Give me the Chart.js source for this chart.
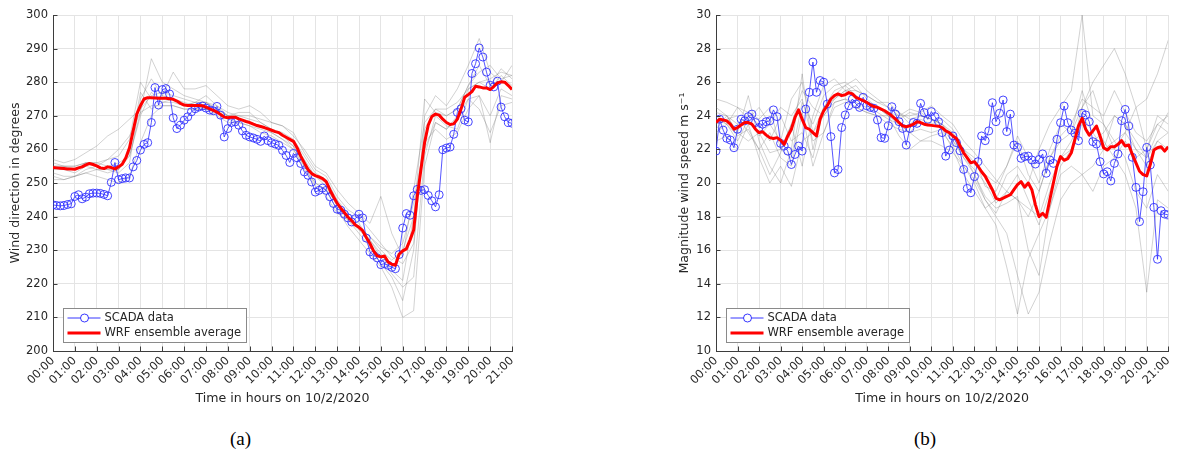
<!DOCTYPE html>
<html>
<head>
<meta charset="utf-8">
<script src="https://cdn.jsdelivr.net/npm/chart.js@4.4.1/dist/chart.umd.min.js"></script>
<style>
  html, body { margin:0; padding:0; background:#fff; width:1181px; height:458px; overflow:hidden; }
  canvas { position:absolute; top:0; }
  #ca { left:0; }
  #cb { left:660px; }
  .cap { position:absolute; top:428px; font-family:'Liberation Serif', serif; font-size:19px; color:#000; }
</style>
</head>
<body>
<canvas id="ca" width="530" height="420"></canvas>
<canvas id="cb" width="521" height="420"></canvas>
<div class="cap" style="left:230px;">(a)</div>
<div class="cap" style="left:914px;">(b)</div>
<script>
// ---------- tick labels ----------
const timeLabels = ['00:00','01:00','02:00','03:00','04:00','05:00','06:00','07:00','08:00','09:00','10:00',
  '11:00','12:00','13:00','14:00','15:00','16:00','17:00','18:00','19:00','20:00','21:00'];
const seriesNames = ['SCADA data', 'WRF ensemble average'];

// ---------- (a) wind direction, 10-min samples ----------
const scadaDir = [243.5,243.3,243.2,243.3,243.6,243.8,
246.0,246.5,245.3,245.8,246.8,247.0,
247.0,246.9,246.6,246.2,250.2,256.1,
251.0,251.3,251.5,251.5,254.8,256.7,
259.8,261.5,262.0,268.0,278.4,273.2,
277.8,278.1,276.5,269.4,266.2,267.2,
268.7,269.7,271.2,272.1,272.6,272.9,
272.3,271.7,271.5,272.8,270.2,263.7,
266.2,268.0,268.2,267.2,265.5,264.2,
263.7,263.4,263.0,262.4,264.0,262.6,
262.0,261.6,261.2,259.7,258.2,256.1,
258.8,257.5,255.8,253.3,252.3,250.3,
247.3,247.8,248.5,247.8,245.9,243.9,
242.2,241.9,240.7,239.6,238.4,239.4,
240.7,239.6,233.6,229.5,228.5,227.7,
225.7,226.0,225.5,224.9,224.5,228.7,
236.6,240.9,240.4,246.2,248.1,247.8,
248.0,246.3,244.7,242.9,246.5,259.9,
260.4,260.7,264.5,271.0,272.1,268.7,
268.2,282.6,285.5,290.2,287.5,283.0,
279.1,278.6,280.3,272.6,269.7,268.0,
267.8];

const wrfDir = [254.6,254.5,254.4,254.3,254.2,254.2,
254.1,254.5,254.8,255.4,255.8,255.5,
255.1,254.5,254.3,254.8,254.6,254.2,
254.8,255.6,257.5,260.5,265.5,270.5,
273.0,275.0,275.4,275.4,275.3,275.2,
275.2,275.2,275.1,274.9,274.4,273.7,
273.2,273.1,273.1,273.1,273.1,273.0,
272.6,272.1,271.6,271.1,270.4,269.6,
269.4,269.6,269.6,269.1,268.7,268.3,
268.0,267.5,267.1,266.8,266.5,266.1,
265.7,265.3,265.0,264.2,263.6,263.0,
262.4,260.5,258.0,256.0,254.0,252.8,
252.2,251.8,251.3,250.4,248.0,245.9,
244.0,242.5,241.2,239.8,238.8,237.5,
236.8,235.8,233.8,232.0,229.8,228.3,
228.0,228.3,226.5,225.8,225.5,228.8,
229.8,230.4,233.0,236.0,246.0,254.0,
262.0,267.2,269.8,270.5,270.2,269.0,
268.0,267.4,267.6,269.0,272.0,275.5,
276.3,277.2,278.8,278.6,278.3,278.3,
277.8,278.7,279.8,280.1,280.0,279.0,
277.8];

// ensemble members (a), 30-min samples
const memDir1 = [257,256,257,259,261,264,266,269,272,276,277,276,275,274,274,273,271,270,270,269,268,267,265,259,254,252,246,242,240,236,232,228,226,232,266,272,272,274,278,280,281,283,282];
const memDir2 = [253,252,252,254,255,257,260,264,271,287,280,278,276,275,274,272,270,270,269,268,266,265,263,258,253,251,245,241,238,233,229,224,221,240,275,271,270,272,279,285,279,284,281];
const memDir3 = [255,255,254,256,255,254,253,256,275,281,276,275,273,274,274,272,270,269,268,267,266,264,262,257,252,249,243,239,235,231,226,222,215,230,270,276,273,278,285,293,283,280,285];
const memDir4 = [252,251,252,253,252,251,250,252,262,270,273,273,272,272,272,270,268,268,267,266,265,263,260,255,250,248,242,237,233,229,225,219,210,212,255,268,266,270,275,276,270,278,276];
const memDir5 = [256,255,255,256,256,255,256,258,270,277,274,274,273,274,276,273,270,271,271,268,266,264,261,255,249,246,241,239,236,233,228,223,219,222,258,270,267,266,275,272,265,273,274];
const memDir6 = [254,254,253,255,254,253,254,259,277,272,274,275,274,273,272,271,269,268,267,265,264,262,260,254,250,248,244,240,237,234,230,227,230,240,260,268,266,269,278,280,278,282,279];
const memDir7 = [255,255,255,256,256,257,258,263,280,275,276,283,278,278,279,276,273,272,273,271,268,267,264,260,255,253,248,244,241,238,246,235,228,248,268,272,270,272,279,283,285,281,282];
const memDir8 = [251,251,252,253,254,254,254,258,271,273,273,273,272,272,272,271,270,269,268,267,265,263,261,256,252,250,244,240,237,234,231,229,232,244,262,266,263,265,272,276,262,276,275];

// ---------- (b) wind speed, 10-min samples ----------
const scadaSpd = [21.9,23.8,23.15,22.66,22.56,22.1,
23.2,23.8,23.7,23.95,24.1,23.6,
23.3,23.5,23.65,23.7,24.35,23.95,
22.36,22.2,21.9,21.1,21.7,22.2,
21.9,24.4,25.4,27.2,25.4,26.1,
26.0,24.7,22.76,20.6,20.8,23.3,
24.05,24.6,25.0,24.7,24.5,25.1,
24.6,24.5,24.45,23.75,22.7,22.66,
23.4,24.54,24.1,23.65,23.25,22.26,
23.25,23.6,23.55,24.74,24.19,23.79,
24.25,23.95,23.65,23.0,21.6,21.96,
22.8,22.4,21.92,20.81,19.68,19.42,
20.38,21.27,22.8,22.52,23.1,24.78,
23.65,24.15,24.94,23.06,24.1,22.26,
22.12,21.47,21.57,21.6,21.37,21.13,
21.4,21.73,20.58,21.37,21.17,22.6,
23.59,24.58,23.59,23.15,22.96,22.52,
24.15,24.05,23.65,22.46,22.32,21.27,
20.54,20.67,20.12,21.17,21.73,23.71,
24.38,23.39,21.53,19.74,17.7,19.48,
22.12,21.07,18.55,15.46,18.35,18.15,
18.1];

const wrfSpd = [23.6,23.8,23.75,23.7,23.5,23.2,
23.3,23.45,23.6,23.6,23.5,23.2,
23.0,23.05,22.85,22.7,22.65,22.7,
22.55,22.3,22.8,23.2,23.9,24.35,
23.8,23.3,23.2,23.0,22.8,23.8,
24.3,24.6,25.0,25.2,25.3,25.2,
25.25,25.38,25.3,25.1,25.0,24.9,
24.8,24.65,24.55,24.5,24.4,24.3,
24.15,24.0,23.8,23.6,23.4,23.35,
23.4,23.5,23.65,23.6,23.5,23.45,
23.43,23.4,23.38,23.3,23.1,23.0,
22.8,22.65,22.2,21.8,21.5,21.2,
21.27,21.0,20.67,20.4,20.0,19.6,
19.1,19.0,19.1,19.2,19.3,19.6,
19.9,20.08,19.75,20.0,19.6,18.7,
18.0,18.2,17.96,19.0,20.0,21.0,
21.57,21.35,21.45,21.8,22.6,23.4,
23.85,23.2,22.85,23.1,23.39,22.8,
22.1,21.96,22.16,22.16,22.3,22.52,
22.2,22.26,21.7,21.2,20.7,20.5,
20.42,21.1,21.96,22.1,22.16,21.9,
22.16];

// ensemble members (b), 30-min samples
const memSpd1 = [25.0,24.8,24.5,24.2,23.8,24.5,22.0,21.5,24.8,23.5,25.2,25.8,26.0,25.5,25.2,24.8,24.5,24.0,24.4,24.2,24.6,24.0,23.5,22.5,21.8,21.0,20.2,19.5,19.0,18.0,19.5,21.5,22.8,23.5,25.0,24.5,24.0,25.5,24.2,23.0,22.5,23.5,24.0];
const memSpd2 = [24.5,24.0,23.0,25.2,22.5,21.0,20.0,22.0,26.5,22.0,24.5,25.5,25.8,26.2,25.5,25.0,24.5,24.2,23.5,24.0,23.8,23.5,22.8,21.5,20.5,19.2,18.5,18.8,19.2,16.0,14.5,18.5,21.0,22.0,24.5,25.5,23.5,22.0,23.0,22.0,21.5,23.0,24.2];
const memSpd3 = [23.5,23.8,24.0,23.0,22.0,20.5,21.8,23.5,21.0,24.0,25.8,26.2,25.5,25.0,24.8,24.5,24.2,24.0,24.0,24.2,23.8,23.2,22.0,20.5,19.5,18.5,19.0,20.5,21.0,20.0,22.0,23.5,24.5,25.5,30.0,24.0,23.5,22.5,23.0,24.5,25.0,26.5,28.5];
const memSpd4 = [22.5,22.8,22.0,23.5,21.5,20.0,21.0,19.8,22.5,23.0,24.0,24.8,25.0,24.8,24.5,24.2,23.8,23.5,23.0,22.5,22.5,22.2,21.8,21.0,20.2,19.0,18.0,17.0,14.5,12.2,13.5,16.5,19.0,20.0,20.5,21.0,22.0,22.5,21.5,19.5,18.5,20.5,19.5];
const memSpd5 = [24.0,23.5,24.5,23.8,24.5,23.5,22.5,25.0,26.0,23.0,24.5,25.2,25.8,25.2,24.8,24.5,24.0,23.5,23.0,23.8,23.5,23.8,23.2,22.0,21.2,20.5,20.0,21.0,22.5,20.5,19.5,21.5,22.5,23.0,24.5,26.0,27.0,28.0,26.5,24.5,22.0,24.0,23.5];
const memSpd6 = [23.0,23.5,22.5,23.8,22.8,23.5,24.5,24.0,25.0,22.5,23.0,24.5,24.8,24.5,24.2,24.0,24.0,23.8,24.2,24.0,23.8,23.5,22.5,21.5,20.8,20.0,18.8,19.5,20.5,19.0,17.5,19.5,21.5,22.0,23.5,22.5,23.0,24.0,23.5,22.0,21.0,22.5,23.0];
const memSpd7 = [23.2,24.0,23.0,22.5,23.0,21.8,22.0,23.5,25.5,24.5,24.0,25.0,25.5,25.8,25.0,24.5,24.0,22.8,22.0,22.5,22.8,23.0,22.2,21.0,20.0,18.5,17.5,15.0,12.2,15.5,17.0,18.5,20.5,21.0,20.5,19.5,21.0,21.5,20.5,18.5,13.5,19.0,18.5];
const memSpd8 = [24.2,24.0,23.5,24.0,23.5,22.5,24.0,22.5,23.0,21.5,24.5,25.0,25.5,25.5,25.2,24.8,24.8,24.2,23.8,24.0,23.8,23.5,23.0,22.0,21.5,19.8,19.5,21.0,22.8,21.5,20.0,22.0,23.5,23.0,25.5,23.5,22.5,21.5,22.5,21.5,22.0,23.5,23.0];
const memSpd9 = [23.8,23.5,22.8,23.2,22.0,23.0,21.5,21.0,24.2,21.0,23.0,24.8,25.0,24.5,24.2,24.0,23.5,23.2,23.0,23.2,23.0,23.2,22.5,21.8,20.5,19.0,18.2,19.5,19.0,18.5,18.0,20.0,21.5,22.5,24.0,23.0,22.0,24.0,23.5,22.5,21.5,22.5,22.0];

// ---------- helpers ----------
const toXY10 = arr => arr.map((v, i) => ({ x: i / 6, y: v }));   // 10-minute sampling in hours
const toXY30 = arr => arr.map((v, i) => ({ x: i / 2, y: v }));   // 30-minute sampling in hours

const TXT = '#262626';
const AX = '#3d3d3d';
Chart.defaults.font.family = "'DejaVu Sans', sans-serif";
Chart.defaults.color = TXT;

const innerTicks = {
  id: 'innerTicks',
  afterDatasetsDraw(chart) {
    const { ctx, chartArea: ca, scales: { x, y } } = chart;
    ctx.save();
    ctx.strokeStyle = AX; ctx.lineWidth = 1;
    x.ticks.forEach(t => {
      const px = Math.round(x.getPixelForValue(t.value)) + 0.5;
      ctx.beginPath(); ctx.moveTo(px, ca.bottom); ctx.lineTo(px, ca.bottom - 4.5); ctx.stroke();
    });
    y.ticks.forEach(t => {
      const py = Math.round(y.getPixelForValue(t.value)) + 0.5;
      ctx.beginPath(); ctx.moveTo(ca.left, py); ctx.lineTo(ca.left + 4.5, py); ctx.stroke();
    });
    ctx.restore();
  }
};

const boxLegend = {
  id: 'boxLegend',
  afterDraw(chart) {
    const { ctx, chartArea: ca } = chart;
    const x0 = Math.round(ca.left + 10) + 0.5, w = 183;
    const y0 = Math.round(ca.bottom - 43) + 0.5, h = 34;
    ctx.save();
    ctx.fillStyle = '#fff';
    ctx.fillRect(x0, y0, w, h);
    ctx.strokeStyle = '#8a8a8a'; ctx.lineWidth = 1;
    ctx.strokeRect(x0, y0, w, h);
    const r1 = y0 + 9.5, r2 = y0 + 24.5;
    // SCADA sample
    ctx.strokeStyle = '#2020ff'; ctx.lineWidth = 0.9;
    ctx.beginPath(); ctx.moveTo(x0 + 4, r1); ctx.lineTo(x0 + 37, r1); ctx.stroke();
    ctx.beginPath(); ctx.arc(x0 + 21, r1, 4, 0, Math.PI * 2); ctx.fillStyle = '#fff'; ctx.fill(); ctx.stroke();
    // WRF sample
    ctx.strokeStyle = '#ff0000'; ctx.lineWidth = 3;
    ctx.beginPath(); ctx.moveTo(x0 + 4, r2); ctx.lineTo(x0 + 37, r2); ctx.stroke();
    ctx.fillStyle = TXT;
    ctx.font = "11.5px 'DejaVu Sans'";
    ctx.textBaseline = 'middle'; ctx.textAlign = 'left';
    ctx.fillText(seriesNames[0], x0 + 41, r1 + 0.5);
    ctx.fillText(seriesNames[1], x0 + 41, r2 + 0.5);
    ctx.restore();
  }
};

function memberDataset(arr) {
  return {
    data: toXY30(arr), borderColor: 'rgba(120,120,120,0.42)', borderWidth: 0.8,
    pointRadius: 0, tension: 0, order: 10
  };
}

function makeChart(id, cfg) {
  const datasets = [
    { label: seriesNames[1], data: toXY10(cfg.wrf), borderColor: '#ff0000', borderWidth: 3,
      pointRadius: 0, tension: 0, order: 1, borderJoinStyle: 'round' },
    { label: seriesNames[0], data: toXY10(cfg.scada), borderColor: '#2b2bff', borderWidth: 0.8,
      pointRadius: 4, pointStyle: 'circle', pointBorderColor: '#3030ff', pointBorderWidth: 0.9,
      pointBackgroundColor: 'rgba(0,0,0,0)', tension: 0, order: 2 },
    ...cfg.members.map(memberDataset)
  ];
  return new Chart(document.getElementById(id), {
    type: 'line',
    data: { datasets },
    options: {
      responsive: false, animation: false, devicePixelRatio: 1,
      events: [],
      layout: { padding: { top: 15, right: cfg.padRight, left: 0, bottom: 0 } },
      plugins: { legend: { display: false }, tooltip: { enabled: false } },
      scales: {
        x: {
          type: 'linear', min: 0, max: 21,
          afterFit: s => { s.height = 69; },
          grid: { color: '#e4e4e4', drawTicks: false },
          border: { color: AX, width: 1 },
          ticks: {
            stepSize: 1, autoSkip: false, maxRotation: 45, minRotation: 45, padding: 3,
            font: { size: 11.5 }, color: TXT,
            callback: v => timeLabels[v]
          },
          title: { display: true, text: 'Time in hours on 10/2/2020', font: { size: 12.6 },
                   color: TXT, padding: { top: 0, bottom: 13.5 } }
        },
        y: {
          min: cfg.ymin, max: cfg.ymax,
          afterFit: s => { s.width = cfg.yWidth; },
          grid: { color: '#e4e4e4', drawTicks: false },
          border: { color: AX, width: 1 },
          ticks: { stepSize: cfg.ystep, autoSkip: false, padding: 5, font: { size: 11.5 }, color: TXT },
          title: { display: true, text: cfg.ytitle, font: { size: 12.6 }, color: TXT,
                   padding: { top: cfg.yTitlePad, bottom: 0 } }
        }
      }
    },
    plugins: [innerTicks, boxLegend]
  });
}

makeChart('ca', {
  scada: scadaDir, wrf: wrfDir,
  members: [memDir1, memDir2, memDir3, memDir4, memDir5, memDir6, memDir7, memDir8],
  ymin: 200, ymax: 300, ystep: 10, yWidth: 53, padRight: 18, yTitlePad: 8,
  ytitle: 'Wind direction in degrees'
});
makeChart('cb', {
  scada: scadaSpd, wrf: wrfSpd,
  members: [memSpd1, memSpd2, memSpd3, memSpd4, memSpd5, memSpd6, memSpd7, memSpd8, memSpd9],
  ymin: 10, ymax: 30, ystep: 2, yWidth: 56, padRight: 7, yTitlePad: 17.5,
  ytitle: 'Magnitude wind speed m s\u207B\u00B9'
});
</script>
</body>
</html>
